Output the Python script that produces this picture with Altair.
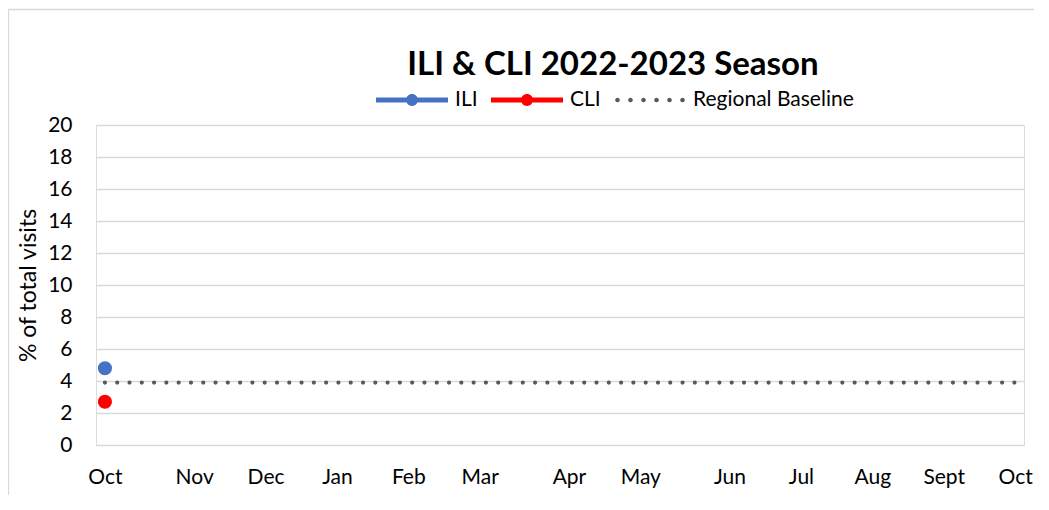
import altair as alt
import pandas as pd

# ---- data ----
weeks = list(range(52))
baseline_values = [3.9] * 52
series_names = ["ILI", "CLI", "Regional Baseline"]
series_colors = ["#4472C4", "#FF0000", "#595959"]
point_weeks = [0, 0]
point_series = ["ILI", "CLI"]
point_values = [4.8, 2.7]
month_weeks = [0, 5, 9, 13, 17, 21, 26, 30, 35, 39, 43, 47, 51]
month_labels = ["Oct", "Nov", "Dec", "Jan", "Feb", "Mar", "Apr", "May", "Jun", "Jul", "Aug", "Sept", "Oct"]
y_ticks = [0, 2, 4, 6, 8, 10, 12, 14, 16, 18, 20]

FONT = "Lato"
W, H = 928, 320

base_df = pd.DataFrame({"week": weeks, "value": baseline_values})
pts_df = pd.DataFrame({"week": point_weeks, "value": point_values, "series": point_series})


def circ(cx, r):
    return f"M{cx - r:.3f},0A{r:.3f},{r:.3f},0,1,1,{cx + r:.3f},0A{r:.3f},{r:.3f},0,1,1,{cx - r:.3f},0Z"


line_dot_path = "M-1,-0.07H1V0.07H-1Z" + circ(0, 0.165)
dots_path = "".join(circ(c, 0.064) for c in [-0.903, -0.542, -0.181, 0.181, 0.542, 0.903])
shape_expr = f"datum.value === 'Regional Baseline' ? '{dots_path}' : '{line_dot_path}'"

label_expr = "[" + ",".join(f"'{m}'" for m in month_labels) + "][indexof([" + ",".join(str(w) for w in month_weeks) + "], datum.value)]"

x_scale = alt.Scale(domain=[-0.5, 51.5], nice=False, zero=False)
y_scale = alt.Scale(domain=[0, 20], nice=False)

x_enc = alt.X("week:Q", scale=x_scale,
              axis=alt.Axis(values=month_weeks, labelExpr=label_expr, title=None, grid=False,
                            domain=False, ticks=False, labelPadding=21, labelFontSize=21,
                            labelColor="#000000", labelFont=FONT))
y_enc = alt.Y("value:Q", scale=y_scale,
              axis=alt.Axis(values=y_ticks, title="% of total visits", grid=True, gridColor="#d9d9d9",
                            gridWidth=1.3, domain=False, ticks=False, labelPadding=24, labelFontSize=21,
                            labelColor="#000000", labelFont=FONT, titleFont=FONT, titleFontSize=23,
                            titleFontWeight="normal", titleColor="#000000", titlePadding=7))

border = alt.Chart(pd.DataFrame({"a": [0]})).mark_rect(
    fillOpacity=0, stroke="#d9d9d9", strokeWidth=1.3
).encode(x=alt.value(-87.5), x2=alt.value(1200), y=alt.value(-115.5), y2=alt.value(700))

baseline = alt.Chart(base_df).mark_line(
    color="#595959", strokeWidth=4.2, strokeCap="round", strokeDash=[0.01, 12.28]
).encode(x=x_enc, y=y_enc)

points = alt.Chart(pts_df).mark_point(filled=True, size=200, opacity=1, strokeWidth=0).encode(
    x=x_enc, y=y_enc,
    color=alt.Color("series:N",
                    scale=alt.Scale(domain=series_names, range=series_colors),
                    legend=alt.Legend(title=None, orient="none", direction="horizontal",
                                      legendX=280, legendY=-61, symbolSize=5184,
                                      symbolType=alt.ExprRef(shape_expr),
                                      symbolStrokeWidth=0, symbolOpacity=1,
                                      labelFont=FONT, labelFontSize=21, labelColor="#000000",
                                      labelOffset=7, columnPadding=13, labelLimit=400))
)

chart = alt.layer(border, baseline, points).properties(
    width=W, height=H,
    title=alt.TitleParams("ILI & CLI 2022-2023 Season", anchor="middle", dx=53, offset=-99,
                          baseline="alphabetic", font=FONT, fontSize=33, fontWeight="bold",
                          color="#000000"),
    autosize=alt.AutoSizeParams(type="none"),
    padding={"left": 88, "top": 117, "right": 10, "bottom": 50},
).configure_view(stroke=None).configure(background="white", font=FONT)

chart.save("out.html", embed_options={"renderer": "svg", "actions": False})
